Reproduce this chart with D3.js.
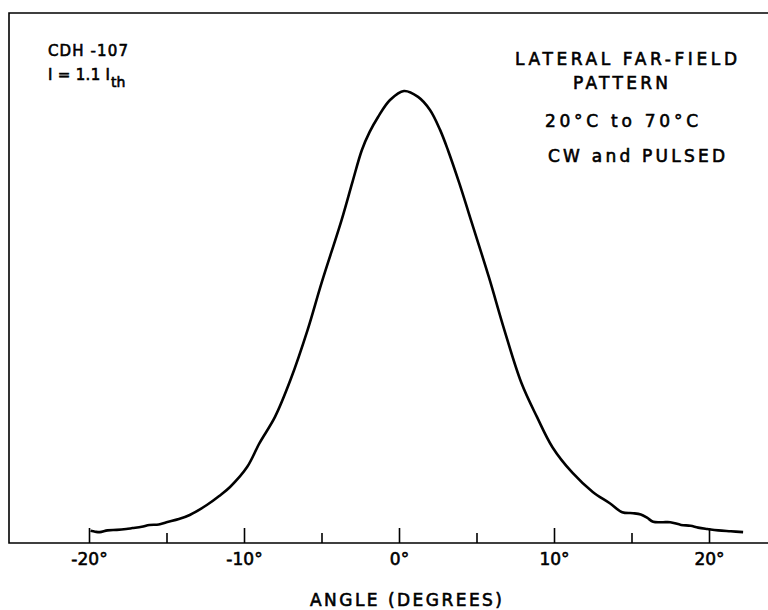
<!DOCTYPE html>
<html>
<head>
<meta charset="utf-8">
<script src="https://cdn.jsdelivr.net/npm/d3@7"></script>
<style>
  body { margin: 0; background: #fff; }
  svg text { font-family: "DejaVu Sans", sans-serif; fill: #000; stroke: #000; stroke-width: 0.6; }
</style>
</head>
<body>
<svg id="chart" width="768" height="610"></svg>
<script>
// far-field scan (angle in degrees, relative intensity)
var angles = [-19.9, -19.6, -19.3, -18.8, -18.2, -17.6, -17.2, -16.6, -16.1, -15.5, -15.0,
  -14.2, -13.5, -12.4, -11.6, -10.9, -9.8, -9.0, -8.0, -7.0, -5.9, -5.0,
  -3.7, -3.0, -2.4, -1.9, -1.36, -0.58, 0.32, 1.23, 2.0, 2.65, 3.16, 3.9, 4.5, 5.8, 6.8, 7.9,
  8.9, 9.9, 11.2, 12.5, 13.6, 14.4, 15.1, 15.6, 16.0, 16.4, 17.0, 17.5, 18.2, 18.8, 19.3,
  19.9, 20.6, 21.4, 22.2];
var intensity = [0.027, 0.025, 0.024, 0.028, 0.029, 0.031, 0.033, 0.036, 0.040, 0.041, 0.046,
  0.053, 0.062, 0.084, 0.104, 0.124, 0.168, 0.221, 0.279, 0.361, 0.471, 0.575,
  0.715, 0.799, 0.869, 0.909, 0.942, 0.980, 1.0, 0.987, 0.958, 0.914, 0.869, 0.795, 0.730,
  0.588, 0.471, 0.354, 0.279, 0.212, 0.155, 0.113, 0.088, 0.068, 0.066, 0.063, 0.056,
  0.047, 0.046, 0.046, 0.040, 0.038, 0.034, 0.031, 0.028, 0.026, 0.024];

var majorTicks = [-20, -10, 0, 10, 20];
var minorTicks = [-15, -5, 5, 15];

var svg = d3.select('#chart');

var x = d3.scaleLinear().domain([-20, 20]).range([89, 709]);
var y = d3.scaleLinear().domain([0, 1]).range([543, 91]);

// frame: top, left and baseline
svg.append('path')
    .attr('d', 'M768,13H9V543H768')
    .attr('fill', 'none')
    .attr('stroke', '#000')
    .attr('stroke-width', 1.6);

// major ticks with labels, pointing up into the plot
var major = svg.append('g')
    .attr('transform', 'translate(0,543)')
    .call(d3.axisBottom(x)
        .tickValues(majorTicks)
        .tickSize(-15)
        .tickPadding(10)
        .tickFormat(function(d) { return d + '°'; }));
major.select('.domain').remove();
major.selectAll('line').attr('stroke', '#000').attr('stroke-width', 1.6);
major.selectAll('text')
    .attr('font-size', 17)
    .attr('font-family', 'DejaVu Sans, sans-serif')
    .attr('fill', '#000');

var minor = svg.append('g')
    .attr('transform', 'translate(0,543)')
    .call(d3.axisBottom(x)
        .tickValues(minorTicks)
        .tickSize(-10)
        .tickFormat(''));
minor.select('.domain').remove();
minor.selectAll('line').attr('stroke', '#000').attr('stroke-width', 1.6);

// the trace
var line = d3.line()
    .x(function(d, i) { return x(angles[i]); })
    .y(function(d) { return y(d); })
    .curve(d3.curveCatmullRom.alpha(0.5));

svg.append('path')
    .datum(intensity)
    .attr('d', line)
    .attr('fill', 'none')
    .attr('stroke', '#000')
    .attr('stroke-width', 2.6)
    .attr('stroke-linejoin', 'round');

// lettering
function label(txt, xPos, yPos, size, width) {
    var t = svg.append('text')
        .attr('x', xPos)
        .attr('y', yPos)
        .attr('font-size', size)
        .text(txt);
    if (width) t.attr('textLength', width).attr('lengthAdjust', 'spacing');
    return t;
}

label('CDH -107', 48, 56, 15, 80);
label('I = 1.1 I', 48, 80, 15, 62);
svg.append('text')
    .attr('x', 111)
    .attr('y', 87)
    .attr('font-size', 14)
    .text('th');

label('LATERAL  FAR-FIELD', 515, 65, 17, 222);
label('PATTERN', 573, 89, 17, 95);
label('20°C  to  70°C', 545, 127, 17, 153);
label('CW  and  PULSED', 548, 162, 17, 177);

label('ANGLE  (DEGREES)', 310, 606, 17, 192);
</script>
</body>
</html>
